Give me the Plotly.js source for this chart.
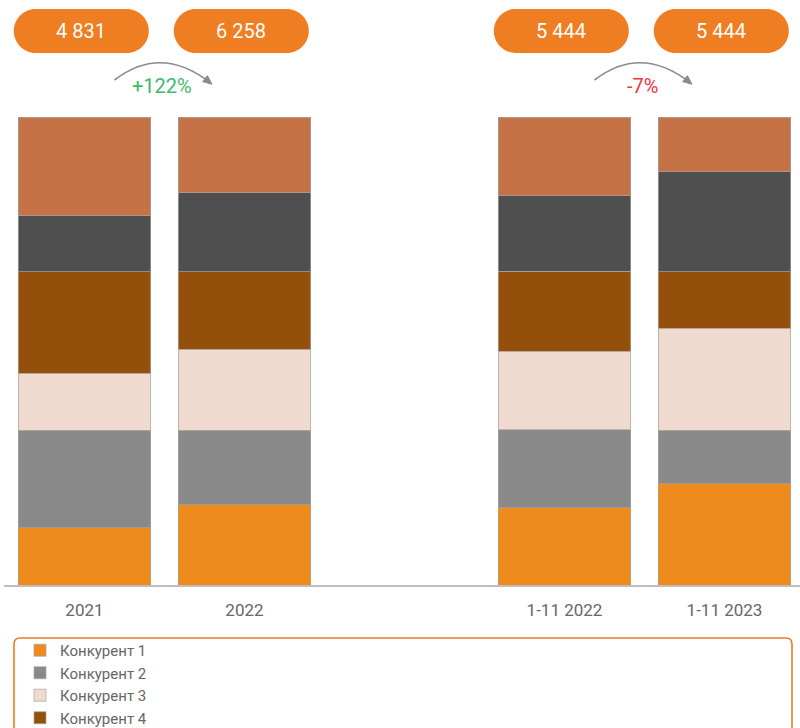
<!DOCTYPE html>
<html>
<head>
<meta charset="utf-8">
<script src="https://cdn.plot.ly/plotly-3.0.1.min.js"></script>
<style>html,body{margin:0;padding:0;background:#fff;}#chart{width:800px;height:728px;}</style>
</head>
<body>
<div id="chart"></div>
<script>
// ---- data ----
var categories = ["2021", "2022", "1-11 2022", "1-11 2023"];
var catPositions = [0, 1, 3, 4];
var seriesNames = ["Конкурент 1", "Конкурент 2", "Конкурент 3", "Конкурент 4", "Конкурент 5", "Конкурент 6"];
var comp1 = [12.2, 17.1, 16.5, 21.6];
var comp2 = [20.9, 16.0, 16.7, 11.5];
var comp3 = [12.2, 17.3, 16.7, 21.8];
var comp4 = [21.6, 16.5, 17.1, 12.0];
var comp5 = [12.0, 16.9, 16.2, 21.4];
var comp6 = [21.1, 16.2, 16.8, 11.7];
var totals = ["4 831", "6 258", "5 444", "5 444"];
var changes = ["+122%", "-7%"];
var changeColors = ["#3DBA6A", "#F2353E"];
var colors = ["#EF8A1C", "#898989", "#F0D9CE", "#94500A", "#4F4F4F", "#C47246"];
var legendVisibleCount = 4; // entries visible in the (cropped) reference legend

var seriesValues = [comp1, comp2, comp3, comp4, comp5, comp6];
var traces = seriesValues.map(function (vals, i) {
  return {
    type: "bar",
    name: seriesNames[i],
    x: catPositions,
    y: vals,
    showlegend: i < legendVisibleCount,
    marker: { color: colors[i], line: { color: "rgba(170,165,160,0.7)", width: 1 } },
    hoverinfo: "name+y"
  };
});

// ---- decorations ----
var shapes = [];
var annotations = [];
var pillYPaper = (585 - 31) / 468;
var W = 135, H = 44, r = 22, k = 0.5523;
var a = W / 2 - r, h = H / 2;
var pillPath = "M" + (-a) + "," + h +
  " L" + a + "," + h +
  " C" + (a + k * r) + "," + h + " " + (a + r) + "," + (k * r) + " " + (a + r) + ",0" +
  " C" + (a + r) + "," + (-k * r) + " " + (a + k * r) + "," + (-h) + " " + a + "," + (-h) +
  " L" + (-a) + "," + (-h) +
  " C" + (-a - k * r) + "," + (-h) + " " + (-a - r) + "," + (-k * r) + " " + (-a - r) + ",0" +
  " C" + (-a - r) + "," + (k * r) + " " + (-a - k * r) + "," + h + " " + (-a) + "," + h + " Z";

catPositions.forEach(function (xp, i) {
  shapes.push({
    type: "path", xref: "x", yref: "paper", xsizemode: "pixel", ysizemode: "pixel",
    xanchor: xp - 0.02, yanchor: pillYPaper, path: pillPath,
    fillcolor: "#EF7D21", line: { width: 0 }, layer: "above"
  });
  annotations.push({
    x: xp - 0.02, xref: "x", y: pillYPaper, yref: "paper", text: totals[i], showarrow: false,
    font: { family: "Roboto", size: 20, color: "#FFFFFF" }, xanchor: "center", yanchor: "middle"
  });
});

// arcs with arrowheads
var arcYPaper = (585 - 80) / 468;
var pctYPaper = (585 - 86) / 468;
[[0, 1], [3, 4]].forEach(function (pair, i) {
  var mid = (pair[0] + pair[1]) / 2;
  var sx = -50, ex = 46, ey = -3, cx = -3, cy = 36;
  shapes.push({
    type: "path", xref: "x", yref: "paper", xsizemode: "pixel", ysizemode: "pixel",
    xanchor: mid, yanchor: arcYPaper,
    path: "M" + sx + ",0 Q" + cx + "," + cy + " " + ex + "," + ey,
    line: { color: "#8A8A8A", width: 1.6 }, layer: "above"
  });
  var dx = ex - cx, dy = ey - cy, L = Math.sqrt(dx * dx + dy * dy);
  dx /= L; dy /= L;
  var len = 9, hw = 3.8;
  var tx = ex + dx * 2, ty = ey + dy * 2;
  var bx = tx - dx * len, by = ty - dy * len;
  var nx = -dy, ny = dx;
  shapes.push({
    type: "path", xref: "x", yref: "paper", xsizemode: "pixel", ysizemode: "pixel",
    xanchor: mid, yanchor: arcYPaper,
    path: "M" + tx + "," + ty + " L" + (bx + nx * hw) + "," + (by + ny * hw) + " L" + (bx - nx * hw) + "," + (by - ny * hw) + " Z",
    fillcolor: "#8A8A8A", line: { color: "#8A8A8A", width: 1 }, layer: "above"
  });
  annotations.push({
    x: mid - 0.015, xref: "x", y: pctYPaper, yref: "paper", text: changes[i], showarrow: false,
    font: { family: "Roboto", size: 20, color: changeColors[i] }, xanchor: "center", yanchor: "middle"
  });
});

// legend box (rounded top corners)
shapes.push({
  type: "path", xref: "paper", yref: "paper", xsizemode: "pixel", ysizemode: "pixel",
  xanchor: 0, yanchor: (585 - 638) / 468,
  path: "M10,-140 L10,-6 Q10,0 16,0 L782,0 Q788,0 788,-6 L788,-140",
  line: { color: "#F07A22", width: 1.6 }, layer: "below"
});

var layout = {
  width: 800, height: 728,
  margin: { l: 4, r: 0, t: 117, b: 143, pad: 0, autoexpand: false },
  paper_bgcolor: "#FFFFFF", plot_bgcolor: "#FFFFFF",
  font: { family: "Roboto, 'Open Sans', sans-serif", color: "#666666" },
  barmode: "stack", bargap: 0.17,
  showlegend: true,
  legend: {
    x: 16 / 796, xanchor: "left", y: (585 - 634) / 468, yanchor: "top",
    orientation: "v", traceorder: "normal",
    font: { family: "Roboto", size: 15, color: "#666666" },
    bgcolor: "rgba(0,0,0,0)", borderwidth: 0, tracegroupgap: 0
  },
  xaxis: {
    range: [-0.503, 4.472], tickvals: catPositions, ticktext: categories,
    showgrid: false, zeroline: false, showline: true, linecolor: "#BFBFBF", linewidth: 2,
    ticks: "outside", ticklen: 9, tickcolor: "rgba(0,0,0,0)",
    tickfont: { family: "Roboto", size: 17, color: "#666666" }, fixedrange: true
  },
  yaxis: { range: [0, 100], visible: false, fixedrange: true },
  shapes: shapes,
  annotations: annotations
};

Plotly.newPlot("chart", traces, layout, { displayModeBar: false, staticPlot: true });
</script>
</body>
</html>
